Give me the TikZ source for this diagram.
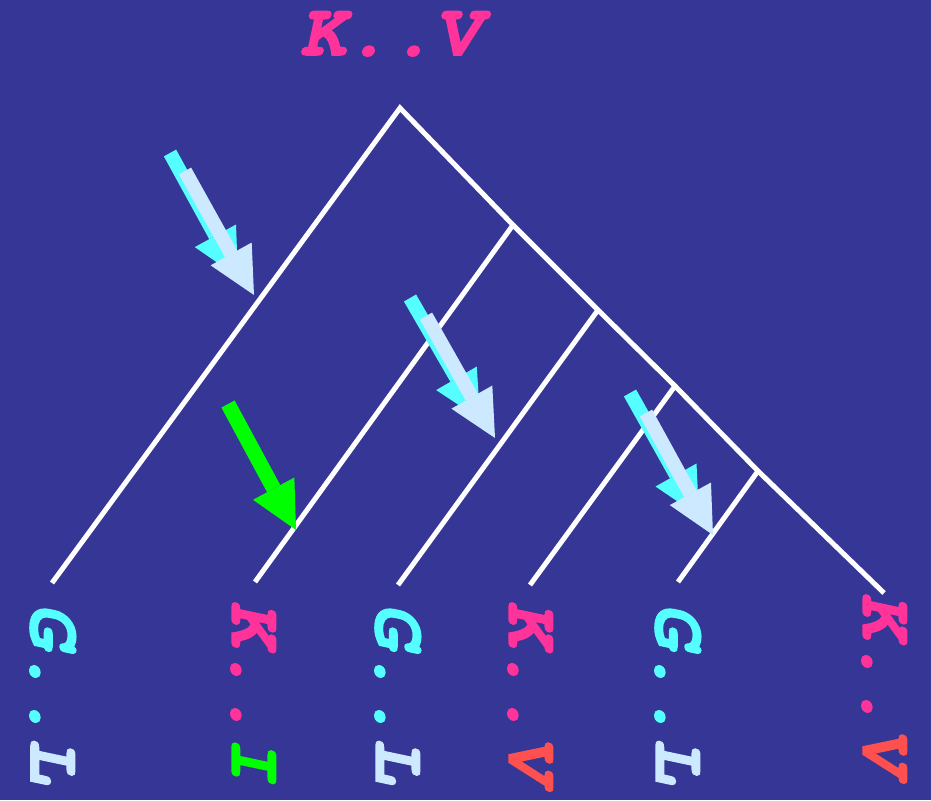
\documentclass[tikz,border=0pt]{standalone}
\usepackage{fontspec}
\usetikzlibrary{arrows.meta}
\newfontfamily\cour{texgyrecursor-bolditalic.otf}[FakeBold=2]
\definecolor{bgblue}{RGB}{53,54,150}
\definecolor{kpink}{RGB}{255,51,153}
\definecolor{gcyan}{RGB}{85,255,255}
\definecolor{lblue}{RGB}{204,233,255}
\definecolor{igreen}{RGB}{0,255,0}
\definecolor{vred}{RGB}{255,80,80}
\begin{document}
\begin{tikzpicture}[x=1pt, y=-1pt,
  branch/.style={draw=white, line width=5pt},
  ptr/.style={line width=14pt, -{Triangle[length=47pt, width=47pt, line width=0pt]}},
  lbl/.style={inner sep=0pt, anchor=base west, font=\cour\fontsize{75}{80}\selectfont},
  leaf/.style={lbl, rotate=-90}
]
\useasboundingbox (0,0) rectangle (931,800);
\fill[bgblue] (0,0) rectangle (931,800);

\node[lbl] (title) at (300,55) {\color{kpink}K..V};

\coordinate (root) at (400,108);
\coordinate (n1) at (513,225);
\coordinate (n2) at (598,310);
\coordinate (n3) at (675,386);
\coordinate (n4) at (758,471);
\coordinate (l1) at (52,583);
\coordinate (l2) at (255,582);
\coordinate (l3) at (398,585);
\coordinate (l4) at (530,585);
\coordinate (l5) at (678,582);
\coordinate (l6) at (884,593);

\draw[branch] (l1) -- (root) -- (n1) -- (n2) -- (n3) -- (n4) -- (l6);
\draw[branch] (n1) -- (l2);
\draw[branch] (n2) -- (l3);
\draw[branch] (n3) -- (l4);
\draw[branch] (n4) -- (l5);

\node[leaf] (gl1) at (31,603) {\color{gcyan}G..\color{lblue}L};
\node[leaf] (ki) at (232,601) {\color{kpink}K..\color{igreen}I};
\node[leaf] (gl2) at (376,603) {\color{gcyan}G..\color{lblue}L};
\node[leaf] (kv1) at (509,601) {\color{kpink}K..\color{vred}V};
\node[leaf] (gl3) at (656,603) {\color{gcyan}G..\color{lblue}L};
\node[leaf] (kv2) at (863,593) {\color{kpink}K..\color{vred}V};

\coordinate (a1) at (170,153);
\coordinate (a1t) at (238,277);
\coordinate (b1) at (185,171);
\coordinate (b1t) at (254,295);
\coordinate (a2) at (410,298);
\coordinate (a2t) at (480,419);
\coordinate (b2) at (426,316);
\coordinate (b2t) at (495,438);
\coordinate (a3) at (630,393);
\coordinate (a3t) at (699,516);
\coordinate (b3) at (646,413);
\coordinate (b3t) at (713,535);
\coordinate (g1) at (228,404);
\coordinate (g1t) at (296,530);

\draw[ptr, gcyan] (a1) -- (a1t);
\draw[ptr, lblue] (b1) -- (b1t);
\draw[ptr, gcyan] (a2) -- (a2t);
\draw[ptr, lblue] (b2) -- (b2t);
\draw[ptr, gcyan] (a3) -- (a3t);
\draw[ptr, lblue] (b3) -- (b3t);
\draw[ptr, igreen, line width=15pt] (g1) -- (g1t);
\end{tikzpicture}
\end{document}
